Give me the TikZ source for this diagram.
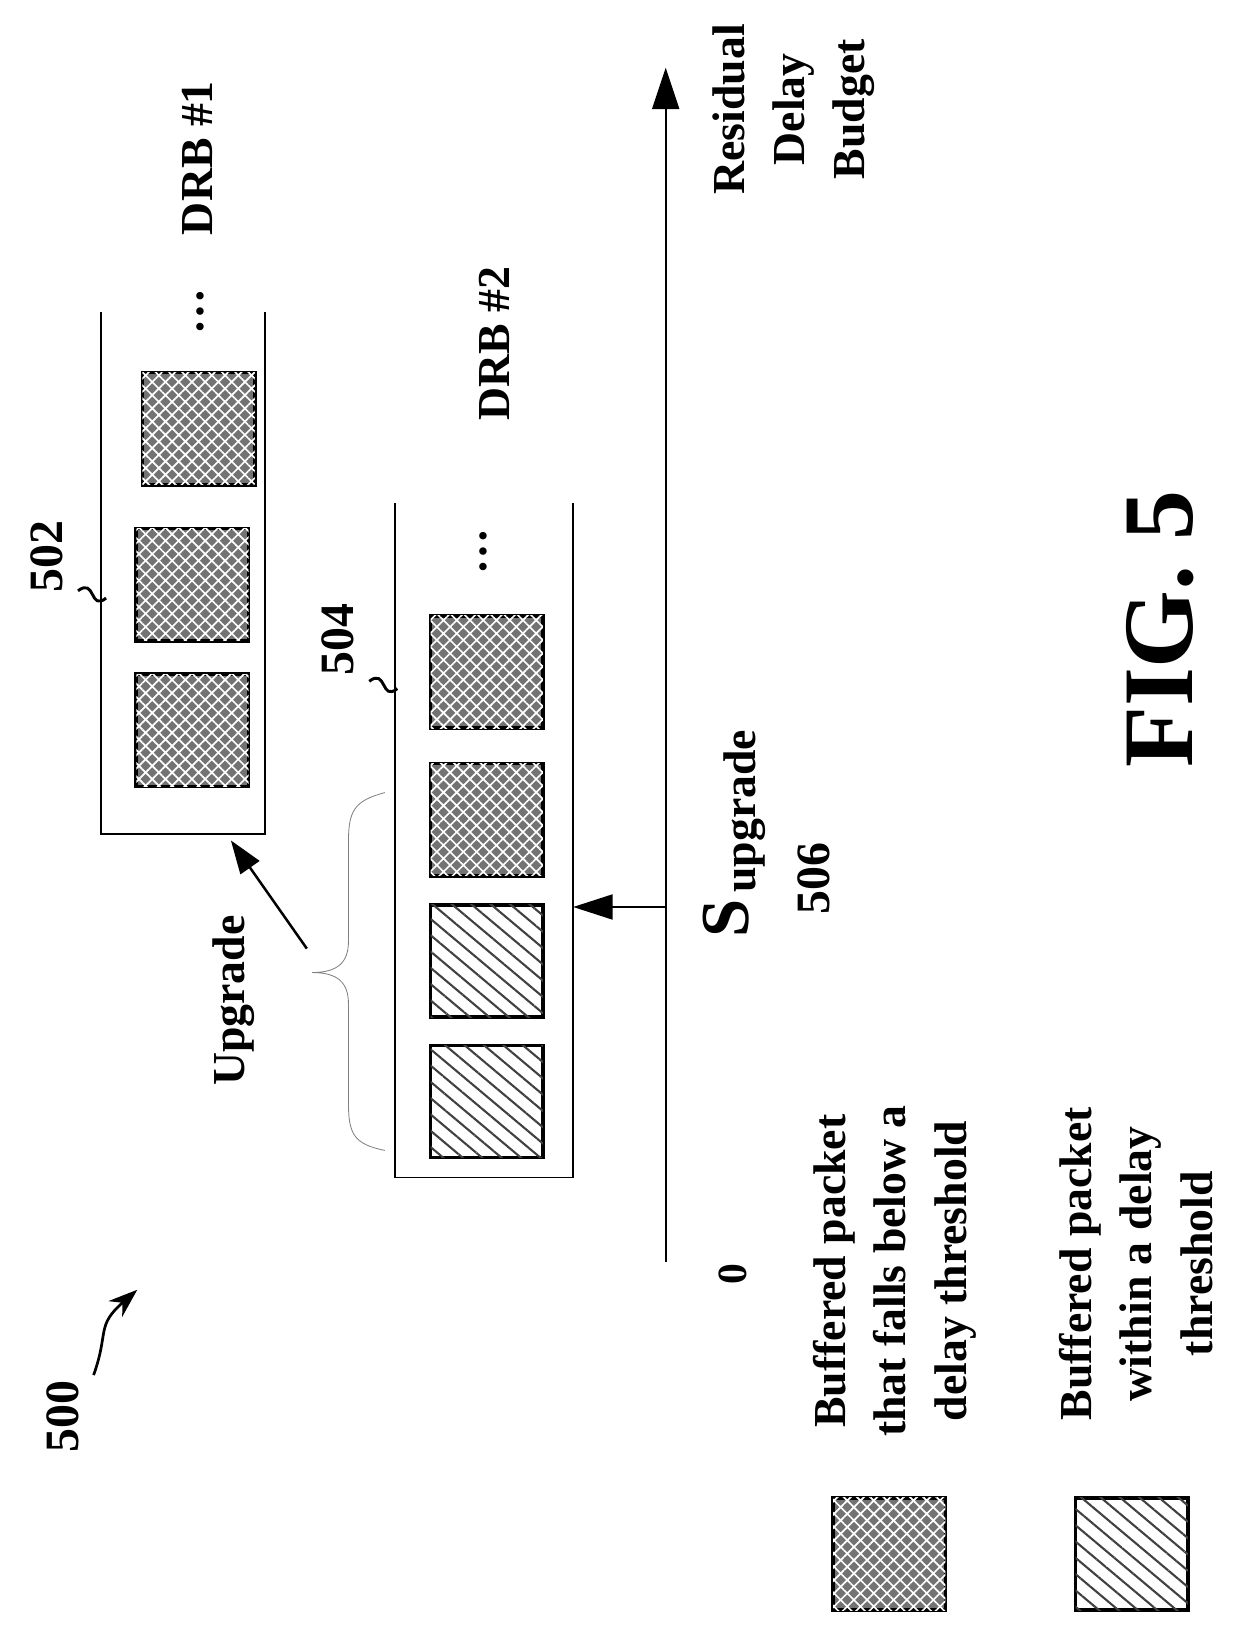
\documentclass[tikz,border=0pt]{standalone}
\usepackage{fontspec}
\setmainfont{Liberation Serif}
\usetikzlibrary{arrows.meta,patterns.meta}
\tikzset{
  lbl/.style={font=\bfseries\fontsize{44}{58}\selectfont,rotate=90,align=center,inner sep=0pt},
  num/.style={font=\bfseries\fontsize{46}{50}\selectfont,rotate=90,inner sep=0pt},
  wall/.style={line width=1.6pt},
  darkpkt/.style={draw,line width=3.5pt,minimum width=108pt,minimum height=108pt,fill=black!55,
    postaction={pattern={Hatch[angle=45,distance=9pt,line width=1.6pt]},pattern color=white}},
  lightpkt/.style={draw,line width=3.5pt,minimum width=108pt,minimum height=108pt,fill=white,
    postaction={pattern={Lines[angle=-40,distance=12pt,line width=2pt]},pattern color=black!75}},
}
\begin{document}
\begin{tikzpicture}[x=1pt,y=-1pt]
  \useasboundingbox (0,0) rectangle (1195,1570);
  % axis
  \coordinate (ax0) at (640,1213);
  \coordinate (ax1) at (640,65);
  \draw[line width=2pt,-{Triangle[length=40pt,width=26pt]}] (ax0) -- (ax1);
  \node[lbl] (rdb) at (763,105) {Residual\\Delay\\Budget};
  \node[num,font=\bfseries\fontsize{40}{44}\selectfont] (zero) at (705,1225) {0};

  % DRB #1 queue
  \draw[wall] (97,300) -- (97,802) -- (255,802) -- (255,300);
  \node[darkpkt] (q1a) at (185,702) {};
  \node[darkpkt] (q1b) at (185,562) {};
  \node[darkpkt] (q1c) at (191,412) {};
  \node[lbl] (dots1) at (193,300) {\dots};
  \node[lbl] (drb1) at (190,152) {DRB \#1};
  \node[num] (n502) at (45,535) {502};
  \draw[line width=2.8pt] (75,568) .. controls (92,555) and (86,588) .. (102,575);

  % DRB #2 queue
  \draw[wall] (380,484) -- (380,1132) -- (551,1132) -- (551,484);
  \node[lightpkt] (q2a) at (468,1059) {};
  \node[lightpkt] (q2b) at (468,924) {};
  \node[darkpkt] (q2c) at (468,788) {};
  \node[darkpkt] (q2d) at (468,646) {};
  \node[lbl] (dots2) at (465,530) {\dots};
  \node[lbl] (drb2) at (475,330) {DRB \#2};
  \node[num] (n504) at (325,615) {504};
  \draw[line width=2.8pt] (355,655) .. controls (372,642) and (366,675) .. (382,662);

  % threshold
  \coordinate (thr) at (640,872);
  \coordinate (wall2) at (551,872);
  \draw[line width=2pt,-{Triangle[length=38pt,width=24pt]}] (thr) -- (wall2);
  \node[lbl,font=\bfseries\fontsize{66}{66}\selectfont] (sS) at (698,883) {S};
  \node[lbl] (sup) at (716,780) {upgrade};
  \node[num] (n506) at (782,845) {506};

  % brace and upgrade
  \draw[gray,line width=0.8pt] (370,762) .. controls (340,770) and (335,780) .. (335,810)
    -- (335,905) .. controls (335,925) and (325,935) .. (300,935)
    .. controls (325,935) and (335,945) .. (335,965) -- (335,1060)
    .. controls (335,1090) and (340,1100) .. (370,1106);
  \node[lbl] (upg) at (225,962) {Upgrade};
  \coordinate (upfrom) at (295,912);
  \coordinate (upto) at (222,808);
  \draw[line width=2.4pt,-{Triangle[length=32pt,width=22pt]}] (upfrom) -- (upto);

  % reference numeral
  \node[num] (n500) at (60,1362) {500};
  \draw[line width=2.6pt,-{Stealth[length=28pt,width=20pt]}] (90,1322) .. controls (105,1280) and (92,1275) .. (132,1240);

  % legend
  \node[darkpkt] (legd) at (855,1494) {};
  \node[lightpkt] (legl) at (1088,1494) {};
  \node[lbl] (legdt) at (860,1222) {Buffered packet\\that falls below a\\delay threshold};
  \node[lbl] (leglt) at (1092,1215) {Buffered packet\\within a delay\\threshold};

  \node[lbl,font=\bfseries\fontsize{96}{96}\selectfont] (fig) at (1115,605) {FIG. 5};
\end{tikzpicture}
\end{document}
